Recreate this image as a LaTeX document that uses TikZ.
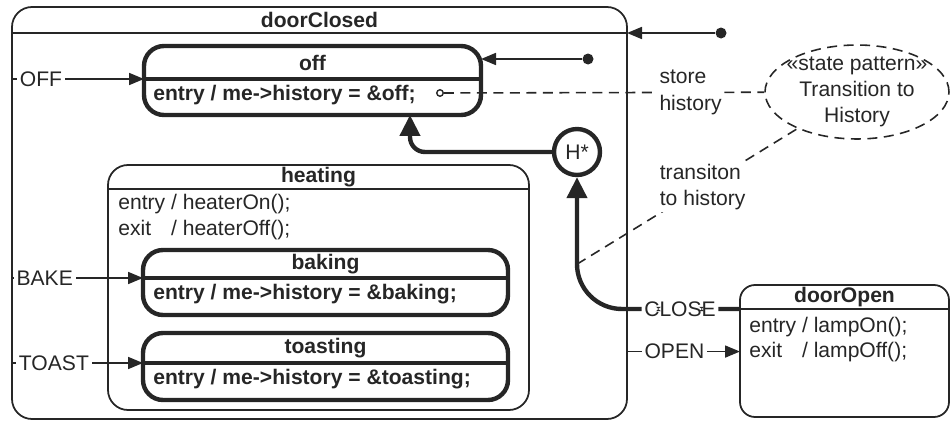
\documentclass[tikz,border=0pt]{standalone}
\usepackage{fontspec}
\setmainfont{Liberation Sans}
\usetikzlibrary{arrows.meta, fit, shapes.geometric}
\newcommand{\evt}[1]{\makebox[2.223em][l]{#1}}

\begin{document}
\begin{tikzpicture}[
    x=0.02cm, y=-0.02cm,
    color=black!85,
    every node/.style={font=\fontsize{12}{15}\selectfont},
    state/.style={draw, line width=1pt, rounded corners=0.4cm, inner sep=0pt, outer sep=0pt},
    leaf/.style={state, line width=2.5pt},
    head/.style={anchor=north, inner sep=0pt, outer sep=0pt, font=\fontsize{12}{15}\selectfont\bfseries},
    body/.style={anchor=base west, inner sep=0pt},
    boldbody/.style={body, font=\fontsize{12}{15}\selectfont\bfseries},
    trigger/.style={fill=white, inner sep=1.5pt},
    initdot/.style={circle, fill, minimum size=0.22cm, inner sep=0pt},
    hist/.style={circle, draw, line width=2.5pt, minimum size=0.92cm, inner sep=0pt},
    tarrow/.style={-{Triangle[length=0.3cm, width=0.24cm]}, line width=1pt},
    harrow/.style={-{Triangle[length=0.42cm, width=0.4cm]}, line width=2.5pt},
    note/.style={line width=0.9pt, dash pattern=on 0.2cm off 0.13cm},
    notelabel/.style={fill=white, inner sep=1pt, align=left}
]
\useasboundingbox (0,0) rectangle (951,423);

% doorClosed
\node[state, fit={(12,7) (627,419)}] (doorClosed) {};
\node[head, minimum width=12.3cm, minimum height=0.52cm] (closedhead) at (doorClosed.north) {doorClosed};
\draw[line width=1pt] (closedhead.south west) -- (closedhead.south east);
\node[initdot] (closedinit) at (721,33) {};

% off
\node[leaf, fit={(144,46) (481,115)}] (off) {};
\node[head, minimum width=6.74cm, minimum height=0.66cm] (offhead) at (off.north) {off};
\draw[line width=2.5pt] (offhead.south west) -- (offhead.south east);
\node[boldbody] (offentry) at (153,100) {entry / me->history = \&off;};
\node[initdot] (offinit) at (588,59) {};
\node[circle, draw, line width=0.8pt, minimum size=0.13cm, inner sep=0pt] (storept) at (440,93) {};

% heating
\node[state, fit={(108,165) (529,410)}] (heating) {};
\node[head, minimum width=8.42cm, minimum height=0.48cm] (heatinghead) at (heating.north) {heating};
\draw[line width=1pt] (heatinghead.south west) -- (heatinghead.south east);
\node[body] (heatentry) at (118,209) {\evt{entry} / heaterOn();};
\node[body] (heatexit) at (118,235) {\evt{exit} / heaterOff();};

% baking
\node[leaf, fit={(143,250) (508,315)}] (baking) {};
\node[head, minimum width=7.3cm, minimum height=0.56cm] (bakinghead) at (baking.north) {baking};
\draw[line width=2.5pt] (bakinghead.south west) -- (bakinghead.south east);
\node[boldbody] (bakeentry) at (153,299) {entry / me->history = \&baking;};

% toasting
\node[leaf, fit={(143,333) (508,400)}] (toasting) {};
\node[head, minimum width=7.3cm, minimum height=0.6cm] (toastinghead) at (toasting.north) {toasting};
\draw[line width=2.5pt] (toastinghead.south west) -- (toastinghead.south east);
\node[boldbody] (toastentry) at (153,384) {entry / me->history = \&toasting;};

% history
\node[hist] (hist) at (577,152) {H*};
\coordinate (closept) at ([yshift=-1.74cm]hist.south);

% doorOpen
\node[state, rounded corners=0.3cm, fit={(740,285) (949,417)}] (doorOpen) {};
\node[head, minimum width=4.18cm, minimum height=0.48cm] (openhead) at (doorOpen.north) {doorOpen};
\draw[line width=1pt] (openhead.south west) -- (openhead.south east);
\node[body] (openentry) at (749,332) {\evt{entry} / lampOn();};
\node[body] (openexit) at (749,357) {\evt{exit} / lampOff();};

% pattern note
\node[ellipse, draw, note, minimum width=3.68cm, minimum height=1.88cm] (pattern) at (857,92) {};
\node[align=center, inner sep=0pt] (patterntext) at (pattern) {«state pattern»\\Transition to\\History};

% Notes
\draw[note] (storept) -- node[notelabel, pos=0.77] {store\\history} (pattern);
\draw[note] (closept) -- node[notelabel, pos=0.57] {transiton\\to history} (pattern);

% Transitions
\draw[tarrow] (closedinit) -- (doorClosed.east |- closedinit);
\draw[tarrow] (offinit) -- (off.east |- offinit);
\draw[tarrow] (doorClosed.west |- offhead.south) -- node[trigger, pos=0.22] {OFF} (off.west |- offhead.south);
\draw[tarrow] (doorClosed.west |- bakinghead.south) -- node[trigger, pos=0.25] {BAKE} (baking.west |- bakinghead.south);
\draw[tarrow] (doorClosed.west |- toastinghead.south) -- node[trigger, pos=0.32] {TOAST} (toasting.west |- toastinghead.south);
\draw[harrow, rounded corners=0.3cm] (hist.west) -| ([xshift=1.95cm]off.south);
\draw[harrow, rounded corners=0.9cm] (doorOpen.west |- openhead.south) -| node[trigger, pos=0.184] {CLOSE} (hist.south);
\draw[tarrow] (doorClosed.east |- openexit) -- node[trigger, pos=0.42] {OPEN} (doorOpen.west |- openexit);

\end{tikzpicture}
\end{document}
